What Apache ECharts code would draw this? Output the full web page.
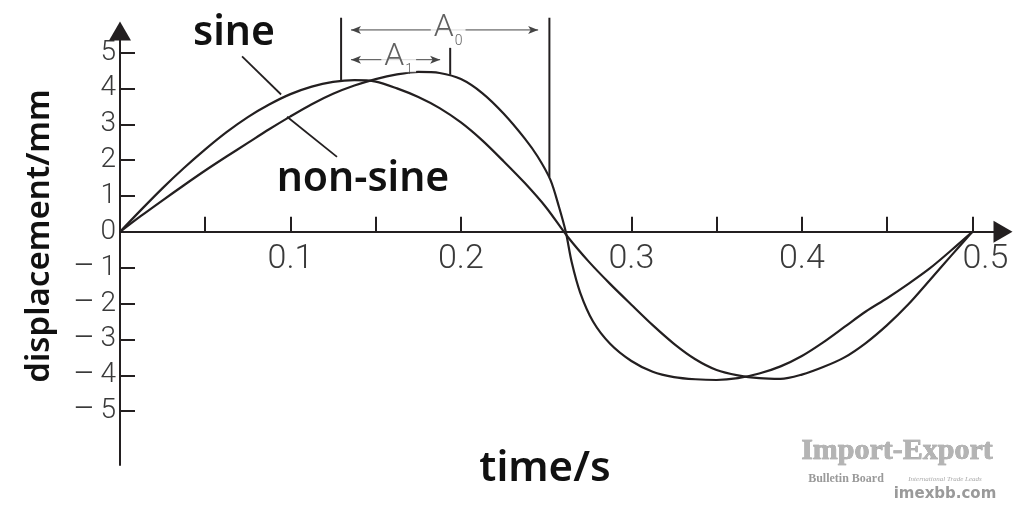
<!DOCTYPE html>
<html>
<head>
<meta charset="utf-8">
<script src="https://cdn.jsdelivr.net/npm/echarts@6/dist/echarts.min.js"></script>
<style>
html,body{margin:0;padding:0;background:#fff;}
#chart{width:1024px;height:516px;}
</style>
</head>
<body>
<div id="chart"></div>
<script>
// ---- data (time in s, displacement in mm) ----
const sineT = [0,0.0125,0.025,0.0375,0.05,0.0625,0.075,0.0875,0.1,0.1125,0.125,0.1375,0.15,0.1625,0.175,0.1875,0.2,0.2125,0.225,0.2375,0.25,0.2625,0.275,0.2875,0.3,0.3125,0.325,0.3375,0.35,0.3625,0.375,0.3875,0.4,0.4125,0.425,0.4375,0.45,0.4625,0.475,0.4875,0.5];
const sineV = [0,0.62,1.22,1.78,2.3,2.78,3.2,3.55,3.84,4.05,4.18,4.23,4.19,4.0,3.76,3.45,3.05,2.55,1.97,1.36,0.68,-0.13,-0.83,-1.45,-2.03,-2.6,-3.12,-3.55,-3.85,-4.0,-4.08,-4.1,-3.98,-3.77,-3.5,-3.1,-2.6,-2.02,-1.35,-0.67,0];
const nonSineT = [0,0.0125,0.025,0.0375,0.05,0.0625,0.075,0.0875,0.1,0.1125,0.125,0.1375,0.15,0.1625,0.175,0.1875,0.2,0.2125,0.225,0.2375,0.245,0.2525,0.2575,0.2615,0.265,0.27,0.2775,0.2875,0.3,0.3125,0.325,0.3375,0.35,0.3625,0.375,0.3875,0.4,0.4125,0.425,0.4375,0.45,0.4625,0.475,0.4875,0.5];
const nonSineV = [0,0.45,0.88,1.3,1.71,2.1,2.48,2.86,3.22,3.56,3.85,4.08,4.26,4.39,4.46,4.43,4.26,3.87,3.3,2.6,2.1,1.45,0.7,0,-0.85,-1.7,-2.5,-3.12,-3.6,-3.9,-4.05,-4.11,-4.13,-4.08,-3.95,-3.75,-3.46,-3.08,-2.65,-2.22,-1.85,-1.45,-1.02,-0.52,0];

const xTickValues = [0.05,0.1,0.15,0.2,0.3,0.35,0.4,0.45,0.5];
const xLabelValues = [0.1,0.2,0.3,0.4,0.5];
const yTickValues = [-5,-4,-3,-2,-1,1,2,3,4,5];
const yLabelValues = [-5,-4,-3,-2,-1,0,1,2,3,4,5];

// annotation geometry in data units
const sineLeader = [[0.0716,4.89],[0.0945,3.83]];
const nonSineLeader = [[0.098,3.21],[0.1273,2.09]];
const dimLeft = [[0.1297,5.97],[0.1297,4.22]];
const dimA1Right = [[0.1937,5.13],[0.1937,4.38]];
const dimA0Right = [[0.2519,5.97],[0.2519,1.53]];
const arrowA0 = [[0.1355,5.63],[0.2453,5.63]];
const arrowA1 = [[0.1355,4.8],[0.1878,4.8]];
const labelA0 = [0.1925,5.68];
const labelA1 = [0.1635,4.87];

const INK = '#231f20';
const GREY = '#3a3a3a';
const zip = (a,b) => a.map((v,i)=>[v,b[i]]);

function seg(name, pts, width, color) {
  return {name, type:'line', data:pts, showSymbol:false, symbol:'none', clip:false,
    silent:true, lineStyle:{color:color||INK, width:width}, z:3, animation:false};
}
function dimArrow(name, pts) {
  return {name, type:'line', clip:false, silent:true, z:3, showSymbol:true,
    symbolSize:[6,10], itemStyle:{color:'#444'}, lineStyle:{color:'#444', width:1},
    data:[{value:pts[0], symbol:'arrow', symbolRotate:90},
          {value:pts[1], symbol:'arrow', symbolRotate:-90}]};
}

const chart = echarts.init(document.getElementById('chart'), null, {renderer:'canvas'});
chart.setOption({
  animation:false,
  backgroundColor:'#fff',
  grid:{left:120, right:21, top:31, bottom:51, containLabel:false},
  xAxis:{
    type:'value', min:0, max:0.518,
    axisLine:{onZero:true, symbol:['none','triangle'], symbolSize:[22,19], lineStyle:{color:INK,width:2}},
    axisTick:{show:true, inside:true, length:15, customValues:xTickValues, lineStyle:{color:INK,width:2}},
    axisLabel:{customValues:xLabelValues,
      formatter:v=> v===0.5 ? '{r|0.5}' : String(v),
      rich:{r:{fontSize:34, fontFamily:'Roboto', fontWeight:300, color:GREY, padding:[0,0,0,26]}},
      fontSize:34, fontFamily:'Roboto', fontWeight:300, color:GREY, margin:-223},
    splitLine:{show:false}
  },
  yAxis:{
    type:'value', min:-6.5, max:5.6,
    axisLine:{onZero:true, symbol:['none','triangle'], symbolSize:[22,19], lineStyle:{color:INK,width:2}},
    axisTick:{show:true, inside:true, length:15, customValues:yTickValues, lineStyle:{color:INK,width:2}},
    axisLabel:{customValues:yLabelValues,
      formatter:v=> v<0 ? '{m|\u2013}\u2009'+(-v) : String(v),
      rich:{m:{fontSize:33, fontFamily:'Roboto', fontWeight:300, color:GREY}},
      fontSize:28, fontFamily:'Roboto', fontWeight:300, color:GREY, margin:4},
    splitLine:{show:false}
  },
  series:[
    {name:'sine', type:'line', data:zip(sineT,sineV), showSymbol:false, smooth:0.3, lineStyle:{color:INK,width:2.2}, z:4},
    {name:'non-sine', type:'line', data:zip(nonSineT,nonSineV), showSymbol:false, smooth:0.3, lineStyle:{color:INK,width:2.2}, z:4},
    seg('sine leader', sineLeader, 1.8),
    seg('non-sine leader', nonSineLeader, 1.8),
    seg('A left', dimLeft, 2),
    seg('A1 right', dimA1Right, 2),
    seg('A0 right', dimA0Right, 2),
    dimArrow('A0 span', arrowA0),
    dimArrow('A1 span', arrowA1),
    {name:'dim labels', type:'scatter', clip:false, silent:true, symbolSize:1, itemStyle:{color:'rgba(0,0,0,0)'}, z:6,
      data:[{value:labelA0, name:'0'},{value:labelA1, name:'1'}],
      label:{show:true, position:'inside', formatter:p=>'{a|A}{s|'+p.name+'}',
        backgroundColor:'#fff', padding:[0,3,0,3],
        rich:{a:{fontSize:32, fontFamily:'Roboto', fontWeight:300, color:GREY, lineHeight:30},
              s:{fontSize:14, fontFamily:'Roboto', fontWeight:300, color:GREY, verticalAlign:'bottom', lineHeight:30, padding:[0,0,-5,1]}}}}
  ],
  graphic:[
    {type:'text', x:234, y:33, style:{text:'sine', font:'600 41px "Noto Sans"', fill:'#111', align:'center', verticalAlign:'middle'}},
    {type:'text', x:363, y:179, style:{text:'non-sine', font:'600 41px "Noto Sans"', fill:'#111', align:'center', verticalAlign:'middle'}},
    {type:'text', x:545, y:469, style:{text:'time/s', font:'600 42px "Noto Sans"', fill:'#111', align:'center', verticalAlign:'middle'}},
    {type:'text', x:40, y:236, rotation:Math.PI/2, style:{text:'displacement/mm', font:'600 33px "Noto Sans"', fill:'#111', align:'center', verticalAlign:'middle'}},
    {type:'text', x:897, y:451, style:{text:'Import-Export', font:'bold 30px "Liberation Serif"', fill:'#b4b4b4', stroke:'#8a8a8a', lineWidth:0.6, align:'center', verticalAlign:'middle'}},
    {type:'text', x:846, y:479, style:{text:'Bulletin Board', font:'bold 12px "Liberation Serif"', fill:'#9a9a9a', align:'center', verticalAlign:'middle'}},
    {type:'text', x:945, y:479, style:{text:'International Trade Leads', font:'italic 7px "Liberation Serif"', fill:'#aaaaaa', align:'center', verticalAlign:'middle'}},
    {type:'text', x:945, y:494, style:{text:'imexbb.com', font:'bold 15px "DejaVu Sans"', fill:'#9a9a9a', align:'center', verticalAlign:'middle'}}
  ]
});
</script>
</body>
</html>
